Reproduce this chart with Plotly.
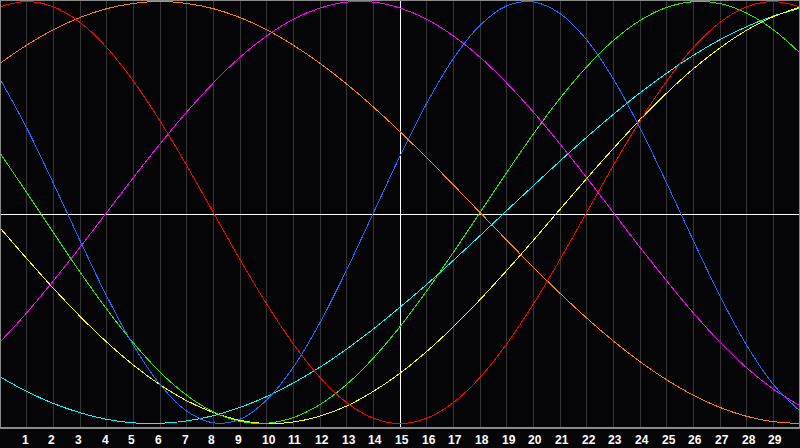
import plotly.graph_objects as go

x_vals = list(range(0, 31))
tick_vals = list(range(1, 30))
tick_labels = [str(v) for v in tick_vals]

red = [0.975, 1.000, 0.975, 0.901, 0.782, 0.623, 0.434, 0.223, 0.000, -0.223, -0.434,
       -0.623, -0.782, -0.901, -0.975, -1.000, -0.975, -0.901, -0.782, -0.623, -0.434,
       -0.223, 0.000, 0.223, 0.434, 0.623, 0.782, 0.901, 0.975, 1.000, 0.975]
orange = [0.707, 0.793, 0.866, 0.924, 0.966, 0.991, 1.000, 0.991, 0.966, 0.924, 0.866,
          0.793, 0.707, 0.609, 0.500, 0.383, 0.259, 0.131, 0.000, -0.131, -0.259,
          -0.383, -0.500, -0.609, -0.707, -0.793, -0.866, -0.924, -0.966, -0.991, -1.000]
magenta = [-0.614, -0.476, -0.324, -0.165, 0.000, 0.165, 0.325, 0.476, 0.614, 0.736, 0.837,
           0.916, 0.969, 0.997, 0.997, 0.969, 0.916, 0.837, 0.736, 0.614, 0.476,
           0.325, 0.165, 0.000, -0.165, -0.324, -0.476, -0.614, -0.736, -0.837, -0.916]
blue = [0.633, 0.401, 0.139, -0.133, -0.396, -0.629, -0.815, -0.941, -0.997, -0.980, -0.889,
        -0.733, -0.522, -0.272, -0.003, 0.267, 0.517, 0.729, 0.887, 0.979, 0.998,
        0.943, 0.818, 0.633, 0.401, 0.139, -0.133, -0.396, -0.629, -0.815, -0.941]
green = [0.282, 0.095, -0.095, -0.282, -0.458, -0.618, -0.756, -0.866, -0.945, -0.990, -0.999,
         -0.972, -0.910, -0.815, -0.690, -0.541, -0.372, -0.189, 0.000, 0.189, 0.372,
         0.541, 0.690, 0.815, 0.910, 0.972, 0.999, 0.990, 0.945, 0.866, 0.756]
yellow = [-0.073, -0.218, -0.359, -0.492, -0.614, -0.723, -0.816, -0.892, -0.948, -0.985, -1.000,
          -0.993, -0.965, -0.917, -0.848, -0.762, -0.659, -0.542, -0.413, -0.275, -0.132,
          0.015, 0.161, 0.303, 0.440, 0.566, 0.681, 0.780, 0.864, 0.928, 0.973]
cyan = [-0.779, -0.848, -0.905, -0.949, -0.980, -0.997, -0.999, -0.988, -0.963, -0.924, -0.872,
        -0.808, -0.733, -0.647, -0.552, -0.449, -0.341, -0.227, -0.110, 0.009, 0.127,
        0.244, 0.357, 0.465, 0.567, 0.660, 0.745, 0.819, 0.881, 0.931, 0.968]

series = [
    ("cyan", cyan, "#00ffff"),
    ("yellow", yellow, "#ffff00"),
    ("green", green, "#22ee00"),
    ("blue", blue, "#1a6cff"),
    ("magenta", magenta, "#ff00ff"),
    ("orange", orange, "#ff8000"),
    ("red", red, "#ff0000"),
]

y_range = [-1.0213, 1.0071]
y_mid = (y_range[0] + y_range[1]) / 2

fig = go.Figure()
# invisible helper trace so the overlay axis (white centre line at 15) is drawn
fig.add_trace(go.Scatter(x=[15], y=[y_mid], xaxis="x2", mode="markers",
                         marker=dict(opacity=0), hoverinfo="skip", showlegend=False))
for name, vals, col in series:
    fig.add_trace(go.Scatter(x=x_vals, y=vals, mode="lines", name=name,
                             line=dict(color=col, width=1, shape="spline"),
                             hoverinfo="skip"))

shapes = [
    dict(type="rect", xref="paper", yref="paper", x0=0, x1=1, y0=0, y1=1,
         line=dict(color="#8a8a8a", width=2), layer="above"),
]

annotations = [
    dict(x=v, y=0, xref="x", yref="paper", text=t, showarrow=False,
         xanchor="left", yanchor="top", xshift=-7, yshift=-3,
         font=dict(family="Liberation Sans", size=12, color="#ffffff", weight="bold"))
    for v, t in zip(tick_vals, tick_labels)
]

fig.update_layout(
    width=800, height=448,
    margin=dict(l=0, r=0, t=0, b=20),
    paper_bgcolor="#050508", plot_bgcolor="#050508",
    showlegend=False,
    hovermode=False,
    shapes=shapes,
    annotations=annotations,
    xaxis=dict(range=[0, 30], tickvals=tick_vals, showticklabels=False,
               showgrid=True, gridcolor="#363636", gridwidth=1,
               zeroline=False, showline=False, ticks=""),
    xaxis2=dict(range=[0, 30], overlaying="x", tickvals=[15], showticklabels=False,
                showgrid=True, gridcolor="#ffffff", gridwidth=1,
                zeroline=False, showline=False, ticks=""),
    yaxis=dict(range=y_range, tickvals=[y_mid], showgrid=True, gridcolor="#ffffff",
               gridwidth=1, zeroline=False, showticklabels=False, showline=False, ticks=""),
)

fig.write_html(
    "out.html",
    config={"displayModeBar": False, "staticPlot": True},
    post_script="document.body.style.margin='0px';"
                "document.querySelectorAll('.scatterlayer path.js-line').forEach("
                "function(p){p.style.shapeRendering='crispEdges';});",
)
